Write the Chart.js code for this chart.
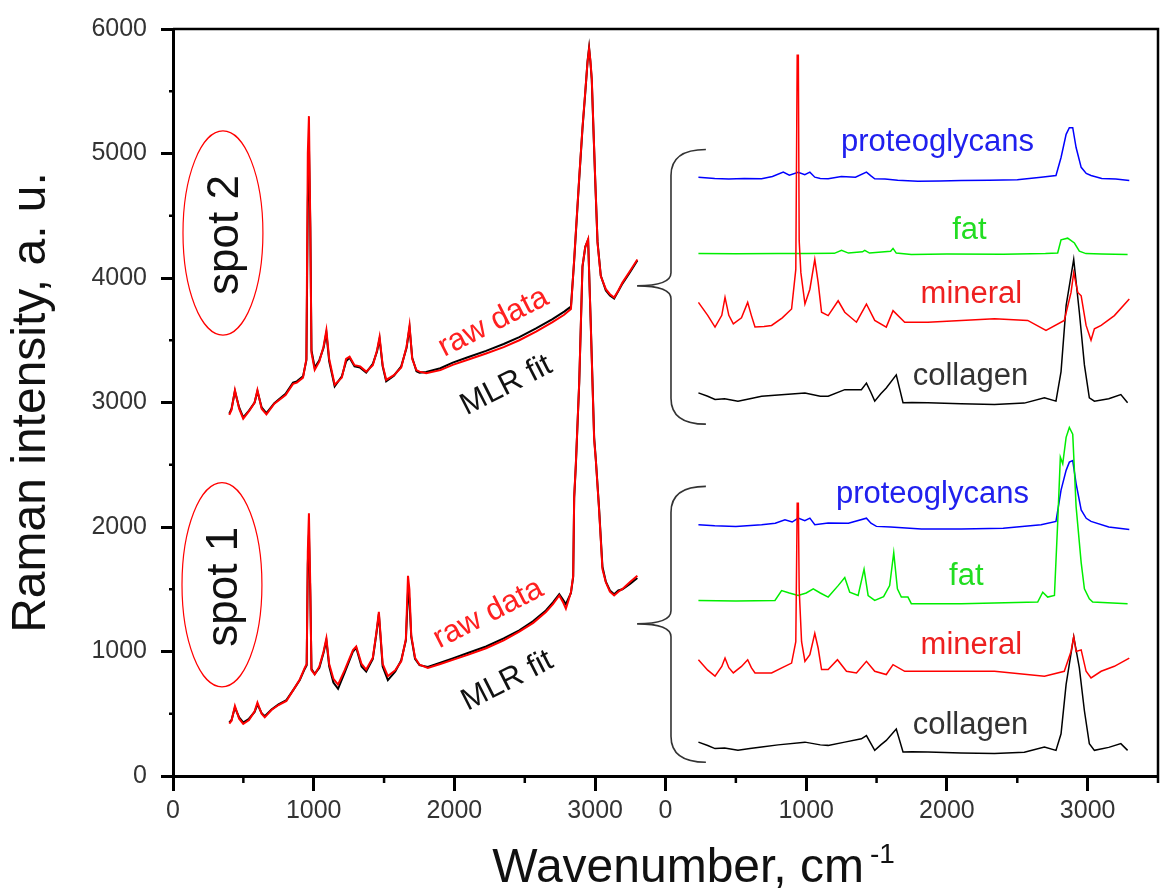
<!DOCTYPE html>
<html>
<head>
<meta charset="utf-8">
<script src="https://cdn.jsdelivr.net/npm/chart.js@4"></script>
<style>
html, body { margin: 0; padding: 0; background: #fff; }
</style>
</head>
<body>
<canvas id="raman" width="1163" height="894"></canvas>
<script>
// ---- data ----
// left panel: measured spectra (red) and MLR fit (black), wavenumber in cm-1
const leftWave2 = [400, 416, 440, 470, 499, 540, 580, 600, 630, 664, 720, 800, 853, 880, 924, 948, 958, 966, 976, 984,
  1007, 1040, 1070, 1090, 1110, 1149, 1200, 1230, 1255, 1290, 1330, 1373, 1420, 1450, 1468, 1490, 1515, 1570, 1622, 1660,
  1681, 1700, 1730, 1752, 1799, 1900, 1988, 2100, 2225, 2350, 2461, 2580, 2697, 2780, 2828, 2851, 2870, 2887, 2910, 2930,
  2946, 2957, 2966, 2976, 2988, 3000, 3017, 3040, 3076, 3105, 3135, 3165, 3194, 3250, 3300];
const spot2Raw = [2900, 2940, 3100, 2950, 2870, 2930, 3000, 3100, 2950, 2905, 2990, 3060, 3150, 3160, 3200, 3350, 5000, 5300, 4400, 3400,
  3262, 3330, 3450, 3580, 3350, 3143, 3200, 3350, 3368, 3300, 3290, 3248, 3300, 3420, 3526, 3300, 3182, 3220, 3281, 3450,
  3619, 3350, 3260, 3248, 3235, 3260, 3302, 3345, 3394, 3445, 3500, 3570, 3645, 3705, 3751, 4149, 4500, 4810, 5207, 5500,
  5736, 5842, 5750, 5604, 5200, 4810, 4281, 4016, 3910, 3870, 3844, 3900, 3963, 4060, 4149];
const spot2Fit = [2910, 2950, 3090, 2960, 2880, 2935, 3000, 3090, 2960, 2915, 2995, 3070, 3160, 3170, 3210, 3340, 4600, 5060, 4400, 3420,
  3280, 3340, 3440, 3560, 3330, 3130, 3210, 3330, 3360, 3290, 3280, 3240, 3310, 3410, 3510, 3290, 3170, 3215, 3290, 3440,
  3600, 3360, 3250, 3240, 3245, 3275, 3320, 3365, 3415, 3470, 3525, 3595, 3670, 3730, 3770, 4140, 4490, 4800, 5200, 5490,
  5740, 5850, 5740, 5590, 5190, 4800, 4290, 4020, 3900, 3860, 3835, 3895, 3955, 4050, 4140];

const leftWave1 = [400, 416, 440, 470, 499, 540, 580, 600, 630, 652, 700, 750, 806, 860, 901, 936, 950, 958, 966, 976,
  984, 1007, 1040, 1070, 1090, 1110, 1140, 1173, 1220, 1279, 1302, 1340, 1373, 1420, 1445, 1463, 1490, 1527, 1580, 1622,
  1655, 1670, 1680, 1693, 1720, 1752, 1811, 1900, 1988, 2100, 2225, 2350, 2461, 2560, 2650, 2700, 2745, 2770, 2792, 2828,
  2844, 2851, 2863, 2887, 2910, 2930, 2950, 2969, 2993, 3005, 3028, 3052, 3076, 3105, 3135, 3165, 3194, 3250, 3300];
const spot1Raw = [420, 444, 563, 460, 418, 450, 520, 590, 500, 471, 530, 570, 603, 700, 775, 868, 900, 1800, 2111, 1500,
  850, 815, 880, 1000, 1106, 900, 780, 734, 850, 1012, 1040, 900, 855, 950, 1150, 1318, 900, 802, 850, 921,
  1100, 1608, 1500, 1132, 950, 894, 868, 900, 933, 975, 1026, 1090, 1159, 1230, 1318, 1380, 1450, 1400, 1344, 1476,
  1608, 2244, 2508, 3169, 4096, 4250, 4310, 3619, 2700, 2534, 2137, 1661, 1556, 1480, 1450, 1480, 1503, 1560, 1608];
const spot1Fit = [430, 450, 550, 470, 430, 460, 515, 575, 505, 480, 535, 575, 610, 700, 770, 860, 890, 1700, 1939, 1450,
  860, 820, 870, 990, 1090, 880, 750, 700, 830, 1000, 1030, 880, 840, 940, 1140, 1300, 880, 770, 840, 930,
  1090, 1480, 1420, 1120, 940, 890, 875, 910, 945, 990, 1040, 1105, 1170, 1245, 1330, 1395, 1460, 1420, 1380, 1470,
  1600, 2230, 2500, 3160, 4090, 4250, 4307, 3630, 2720, 2540, 2150, 1680, 1560, 1490, 1460, 1490, 1500, 1545, 1590];

// right panel: MLR component spectra, on the inset's own wavenumber axis
const s2ProtWave = [234, 350, 450, 560, 683, 760, 837, 880, 943, 990, 1026, 1061, 1100, 1156, 1250, 1350, 1428, 1460, 1487, 1560,
  1650, 1794, 1950, 2102, 2300, 2500, 2669, 2775, 2811, 2847, 2870, 2894, 2918, 2954, 2990, 3024, 3100, 3200, 3296];
const s2Prot = [4810, 4800, 4795, 4800, 4797, 4815, 4850, 4825, 4850, 4830, 4850, 4810, 4800, 4797, 4815, 4810, 4850, 4820, 4797, 4795,
  4785, 4778, 4780, 4783, 4785, 4790, 4810, 4823, 4968, 5154, 5207, 5207, 5048, 4889, 4840, 4823, 4800, 4795, 4783];

const s2FatWave = [234, 500, 800, 1000, 1200, 1251, 1300, 1400, 1416, 1450, 1600, 1617, 1640, 1747, 2000, 2400, 2700, 2787, 2811, 2858,
  2906, 2941, 2988, 3100, 3284];
const s2Fat = [4196, 4194, 4196, 4196, 4198, 4222, 4200, 4210, 4222, 4200, 4215, 4238, 4200, 4188, 4192, 4190, 4196, 4201, 4307, 4320,
  4281, 4215, 4196, 4192, 4188];

const s2MinWave = [234, 300, 352, 400, 423, 450, 482, 540, 584, 610, 636, 700, 754, 830, 896, 926, 936, 944, 950, 962,
  991, 1026, 1061, 1085, 1109, 1156, 1227, 1274, 1357, 1428, 1487, 1569, 1617, 1700, 1865, 2102, 2338, 2574, 2704, 2834,
  2882, 2901, 2930, 2954, 2989, 3024, 3048, 3096, 3190, 3296];
const s2Min = [3804, 3700, 3606, 3700, 3844, 3700, 3632, 3680, 3804, 3700, 3606, 3610, 3619, 3680, 3751, 4069, 5789, 5789, 4300, 4043,
  3791, 3910, 4149, 3963, 3725, 3698, 3817, 3725, 3645, 3791, 3659, 3606, 3738, 3645, 3645, 3659, 3672, 3659, 3579, 3659,
  3884, 4043, 3884, 3857, 3619, 3500, 3592, 3619, 3698, 3831];

const colWave = [234, 300, 352, 420, 515, 600, 683, 800, 991, 1100, 1156, 1274, 1392, 1428, 1460, 1487, 1530, 1569, 1640, 1688,
  1750, 1865, 2100, 2338, 2550, 2693, 2775, 2811, 2847, 2901, 2941, 2977, 3012, 3048, 3150, 3236, 3284];
const s2Col = [3077, 3050, 3024, 3030, 3011, 3030, 3050, 3060, 3077, 3050, 3050, 3103, 3103, 3156, 3080, 3011, 3070, 3116, 3222, 2998,
  3000, 2998, 2990, 2984, 2995, 3037, 3011, 3248, 3778, 4149, 3725, 3302, 3037, 3011, 3030, 3064, 2998];
const s1Col = [272, 245, 220, 225, 207, 220, 233, 250, 272, 250, 246, 272, 299, 325, 260, 206, 250, 286, 378, 193,
  195, 193, 185, 180, 190, 233, 206, 339, 736, 1119, 868, 524, 260, 206, 230, 260, 206];

const s1ProtWave = [234, 350, 500, 683, 780, 849, 900, 943, 990, 1026, 1061, 1156, 1300, 1428, 1460, 1499, 1600, 1818, 2102, 2400,
  2669, 2775, 2811, 2847, 2870, 2894, 2918, 2954, 2990, 3024, 3150, 3296];
const s1Prot = [2018, 2010, 2005, 2018, 2030, 2058, 2040, 2071, 2050, 2071, 2018, 2032, 2030, 2071, 2030, 2005, 2000, 1984, 1984, 1990,
  2018, 2045, 2296, 2455, 2521, 2534, 2349, 2137, 2070, 2045, 2000, 1979];

const s1FatWave = [234, 500, 778, 825, 880, 943, 1000, 1050, 1100, 1156, 1227, 1274, 1309, 1369, 1411, 1440, 1487, 1550, 1593, 1622,
  1648, 1676, 1723, 1747, 2102, 2645, 2681, 2716, 2764, 2787, 2806, 2823, 2847, 2870, 2894, 2918, 2954, 2977, 3012, 3036, 3284];
const s1Fat = [1410, 1405, 1410, 1489, 1470, 1450, 1470, 1503, 1470, 1437, 1529, 1595, 1476, 1450, 1661, 1450, 1410, 1440, 1529, 1794,
  1503, 1437, 1437, 1384, 1384, 1397, 1476, 1437, 1450, 2032, 2561, 2508, 2720, 2799, 2746, 2164, 1714, 1503, 1423, 1397, 1384];

const s1MinWave = [234, 300, 352, 400, 423, 450, 482, 540, 584, 610, 636, 754, 830, 896, 926, 936, 944, 950, 967, 991,
  1026, 1061, 1085, 1109, 1156, 1222, 1286, 1357, 1428, 1487, 1569, 1617, 1700, 1865, 2338, 2693, 2834, 2882, 2901, 2918,
  2954, 2989, 3024, 3096, 3190, 3296];
const s1Min = [934, 850, 802, 880, 947, 870, 828, 880, 934, 870, 828, 828, 870, 907, 1079, 2191, 2191, 1500, 1079, 921,
  974, 1145, 1026, 855, 855, 934, 841, 828, 921, 841, 815, 894, 841, 841, 841, 802, 841, 1000, 1119, 1000,
  1013, 841, 788, 841, 881, 947];

const tickValues = [0, 1000, 2000, 3000];
const componentNames = ['proteoglycans', 'fat', 'mineral', 'collagen'];

// the inset shares the x axis: its own zero sits at 3500 on the main scale
const INSET_SHIFT = 3500;
const X_MAX = 7000;
const FONT = '"Liberation Sans", Arial, sans-serif';

const RED = '#ff0000', BLACK = '#000000', BLUE = '#0000ff', GREEN = '#00ee00';

function series(xs, ys, shift) {
  return xs.map((v, i) => ({ x: v + shift, y: ys[i] }));
}
function line(data, color, width) {
  return { data, borderColor: color, borderWidth: width, showLine: true, pointRadius: 0, tension: 0, fill: false };
}
function relWave(v) {
  return v < INSET_SHIFT ? v : v - INSET_SHIFT;
}
function isMajorX(v) {
  return v < X_MAX && tickValues.includes(relWave(v));
}

// first dataset is painted last (on top)
const datasets = [
  line(series(leftWave2, spot2Raw, 0), RED, 2),
  line(series(leftWave1, spot1Raw, 0), RED, 2),
  line(series(leftWave2, spot2Fit, 0), BLACK, 2),
  line(series(leftWave1, spot1Fit, 0), BLACK, 2),
  line(series(s2MinWave, s2Min, INSET_SHIFT), RED, 1.5),
  line(series(s1MinWave, s1Min, INSET_SHIFT), RED, 1.5),
  line(series(colWave, s2Col, INSET_SHIFT), BLACK, 1.5),
  line(series(colWave, s1Col, INSET_SHIFT), BLACK, 1.5),
  line(series(s1FatWave, s1Fat, INSET_SHIFT), GREEN, 1.5),
  line(series(s2FatWave, s2Fat, INSET_SHIFT), GREEN, 1.5),
  line(series(s2ProtWave, s2Prot, INSET_SHIFT), BLUE, 1.5),
  line(series(s1ProtWave, s1Prot, INSET_SHIFT), BLUE, 1.5),
];

function text(ctx, str, x, y, opts) {
  ctx.save();
  ctx.translate(x, y);
  ctx.rotate((opts.angle || 0) * Math.PI / 180);
  ctx.font = opts.size + 'px ' + FONT;
  ctx.fillStyle = opts.color;
  ctx.textAlign = opts.align || 'center';
  ctx.textBaseline = opts.baseline || 'alphabetic';
  ctx.fillText(str, 0, 0);
  ctx.restore();
}

function brace(ctx, px, py, b) {
  const lx = px(b.line), ex = px(b.end), tx = px(b.tip);
  const top = py(b.top), tip = py(b.mid), bot = py(b.bottom);
  const r = 26, r2 = 13;
  ctx.beginPath();
  ctx.moveTo(ex, top);
  ctx.quadraticCurveTo(lx, top, lx, top + r);
  ctx.lineTo(lx, tip - r2);
  ctx.quadraticCurveTo(lx, tip, tx, tip);
  ctx.quadraticCurveTo(lx, tip, lx, tip + r2);
  ctx.lineTo(lx, bot - r);
  ctx.quadraticCurveTo(lx, bot, ex, bot);
  ctx.stroke();
}

const annotate = {
  id: 'annotate',
  afterDraw(chart) {
    const { ctx, chartArea: a, scales: { x, y } } = chart;
    const px = v => x.getPixelForValue(v);
    const py = v => y.getPixelForValue(v);
    ctx.save();

    // top and right frame
    ctx.strokeStyle = '#000';
    ctx.lineWidth = 2.5;
    ctx.beginPath();
    ctx.moveTo(a.left, a.top);
    ctx.lineTo(a.right, a.top);
    ctx.lineTo(a.right, a.bottom);
    ctx.stroke();

    // minor ticks
    ctx.lineWidth = 2.5;
    for (let v = 500; v <= X_MAX; v += 500) {
      if (isMajorX(v)) continue;
      ctx.beginPath();
      ctx.moveTo(px(v), a.bottom);
      ctx.lineTo(px(v), a.bottom + 7);
      ctx.stroke();
    }
    for (let v = 500; v < 6000; v += 1000) {
      ctx.beginPath();
      ctx.moveTo(a.left - 4, py(v));
      ctx.lineTo(a.left, py(v));
      ctx.stroke();
    }

    // spot ellipses and names
    ctx.strokeStyle = RED;
    ctx.lineWidth = 1.2;
    [[355, 4361, 'spot 2'], [348, 1536, 'spot 1']].forEach(([cx, cy, name]) => {
      ctx.beginPath();
      ctx.ellipse(px(cx), py(cy), px(cx + 284) - px(cx), py(cy) - py(cy + 820), 0, 0, Math.PI * 2);
      ctx.stroke();
      text(ctx, name, px(cx) + 15, py(cy) + 2, { angle: -90, size: 44, color: '#111' });
    });

    // curve labels on the left panel
    text(ctx, 'raw data', px(2277), py(3643), { angle: -27, size: 31, color: '#ff2020', baseline: 'middle' });
    text(ctx, 'MLR fit', px(2369), py(3135), { angle: -27, size: 31, color: '#111', baseline: 'middle' });
    text(ctx, 'raw data', px(2241), py(1302), { angle: -27, size: 31, color: '#ff2020', baseline: 'middle' });
    text(ctx, 'MLR fit', px(2376), py(762), { angle: -27, size: 31, color: '#111', baseline: 'middle' });

    // braces
    ctx.strokeStyle = '#333';
    ctx.lineWidth = 1.6;
    brace(ctx, px, py, { line: 3539, end: 3787, tip: 3298, top: 5032, mid: 3937, bottom: 2826 });
    brace(ctx, px, py, { line: 3539, end: 3787, tip: 3298, top: 2326, mid: 1222, bottom: 111 });

    // component names
    const labelColors = ['#2020ee', '#22dd22', '#ee2020', '#333'];
    const spot2Pos = [[5433, 5024], [5660, 4310], [5674, 3802], [5667, 3143]];
    const spot1Pos = [[5397, 2191], [5638, 1532], [5674, 976], [5667, 341]];
    componentNames.forEach((n, i) => {
      text(ctx, n, px(spot2Pos[i][0]), py(spot2Pos[i][1]), { size: 31, color: labelColors[i] });
      text(ctx, n, px(spot1Pos[i][0]), py(spot1Pos[i][1]), { size: 31, color: labelColors[i] });
    });

    // x axis title with superscript
    ctx.font = '48px ' + FONT;
    const main = 'Wavenumber, cm';
    const w = ctx.measureText(main).width;
    ctx.font = '28px ' + FONT;
    const sw = ctx.measureText('-1').width;
    const startX = px(3700) - (w + 6 + sw) / 2;
    text(ctx, main, startX, a.bottom + 106, { size: 48, color: '#111', align: 'left' });
    text(ctx, '-1', startX + w + 6, a.bottom + 87, { size: 28, color: '#111', align: 'left' });

    ctx.restore();
  }
};

new Chart(document.getElementById('raman').getContext('2d'), {
  type: 'scatter',
  data: { datasets },
  plugins: [annotate],
  options: {
    responsive: false,
    animation: false,
    layout: { padding: { top: 20, right: 3, left: 0, bottom: 0 } },
    plugins: { legend: { display: false }, tooltip: { enabled: false } },
    scales: {
      x: {
        type: 'linear',
        min: 0,
        max: X_MAX,
        afterFit: s => { s.height = 118; },
        border: { display: true, width: 3, color: '#000' },
        grid: {
          drawOnChartArea: false,
          tickLength: 15,
          tickWidth: 3,
          tickColor: c => (c.tick && isMajorX(c.tick.value)) ? '#000' : 'rgba(0,0,0,0)',
        },
        ticks: {
          stepSize: 500,
          autoSkip: false,
          maxRotation: 0,
          padding: 5,
          color: '#333',
          font: { family: FONT, size: 25 },
          callback: v => isMajorX(v) ? String(relWave(v)) : '',
        },
      },
      y: {
        min: 0,
        max: 6000,
        afterFit: s => { s.width = 173; },
        border: { display: true, width: 3, color: '#000' },
        grid: {
          drawOnChartArea: false,
          tickLength: 12,
          tickWidth: 3,
          tickColor: c => (c.tick && c.tick.value % 1000 === 0) ? '#000' : 'rgba(0,0,0,0)',
        },
        ticks: {
          stepSize: 500,
          autoSkip: false,
          padding: 14,
          color: '#333',
          font: { family: FONT, size: 25 },
          callback: v => v % 1000 === 0 ? String(v) : '',
        },
        title: {
          display: true,
          text: 'Raman intensity, a. u.',
          color: '#111',
          font: { family: FONT, size: 48 },
          padding: { top: 3, bottom: 0 },
        },
      },
    },
  },
});
</script>
</body>
</html>
